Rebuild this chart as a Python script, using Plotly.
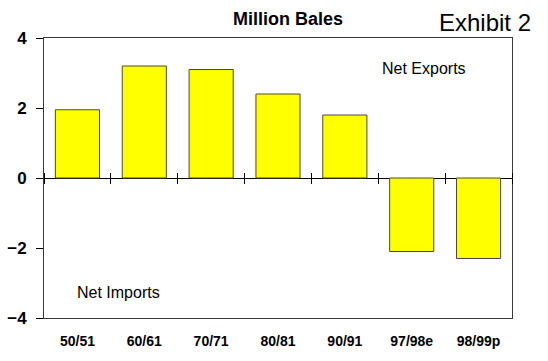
import plotly.graph_objects as go

# Net cotton trade balance by marketing year (million bales)
years = ["50/51", "60/61", "70/71", "80/81", "90/91", "97/98e", "98/99p"]
net_trade = [1.95, 3.2, 3.1, 2.4, 1.8, -2.1, -2.3]
y_ticks = [-4, -2, 0, 2, 4]

FONT = "Liberation Sans, Arial, sans-serif"
FRAME = "#3a3a3a"

fig = go.Figure()
fig.add_trace(go.Bar(
    x=years, y=net_trade,
    marker=dict(color="#FFFF00", line=dict(color="#4a4a3a", width=1)),
    hoverinfo="x+y",
))

# invisible traces that carry the tick-mark axes drawn across the zero line
boundaries = [i - 0.5 for i in range(len(years) + 1)]
for ax in ("x2", "x3"):
    fig.add_trace(go.Scatter(x=[0], y=[0], xaxis=ax, yaxis="y",
                             mode="markers", marker=dict(opacity=0),
                             hoverinfo="skip", showlegend=False))

fig.update_layout(
    width=548, height=361,
    margin=dict(l=44, r=36, t=38, b=43),
    paper_bgcolor="white", plot_bgcolor="white",
    showlegend=False, bargap=0.34,
    font=dict(family=FONT, color="black"),
    xaxis=dict(
        type="category", range=[-0.5, 6.5], automargin=False,
        showline=True, mirror=True, linecolor=FRAME, linewidth=1,
        ticks="", showgrid=False, zeroline=False,
        tickfont=dict(family=FONT, size=14, weight="bold"),
        ticklabelstandoff=10,
    ),
    xaxis2=dict(
        overlaying="x", anchor="free", position=0.5, side="bottom",
        range=[-0.5, 6.5], tickmode="array", tickvals=boundaries,
        ticks="outside", ticklen=5, tickcolor="black", tickwidth=1,
        showticklabels=False, showgrid=False, zeroline=False, showline=False,
    ),
    xaxis3=dict(
        overlaying="x", anchor="free", position=0.5, side="top",
        range=[-0.5, 6.5], tickmode="array", tickvals=boundaries,
        ticks="outside", ticklen=5, tickcolor="black", tickwidth=1,
        showticklabels=False, showgrid=False, zeroline=False, showline=False,
    ),
    yaxis=dict(
        range=[-4, 4], tickmode="array", tickvals=y_ticks, automargin=False,
        showline=True, mirror=True, linecolor=FRAME, linewidth=1,
        ticks="outside", ticklen=7, tickcolor="black",
        showgrid=False, zeroline=True, zerolinecolor="black", zerolinewidth=1,
        tickfont=dict(family=FONT, size=17, weight="bold"),
        ticklabelstandoff=6,
    ),
)

fig.add_annotation(text="<b>Million Bales</b>", xref="paper", yref="paper",
                   x=0.521, y=1.11, showarrow=False,
                   font=dict(family=FONT, size=18))
fig.add_annotation(text="Exhibit 2", xref="paper", yref="paper",
                   x=1.045, y=1.11, xanchor="right", showarrow=False,
                   font=dict(family=FONT, size=24))
fig.add_annotation(text="Net Exports", xref="paper", yref="paper",
                   x=0.906, y=0.93, xanchor="right", showarrow=False,
                   font=dict(family=FONT, size=16))
fig.add_annotation(text="Net Imports", xref="paper", yref="paper",
                   x=0.066, y=0.055, xanchor="left", showarrow=False,
                   font=dict(family=FONT, size=16))

fig.write_html("out.html")
